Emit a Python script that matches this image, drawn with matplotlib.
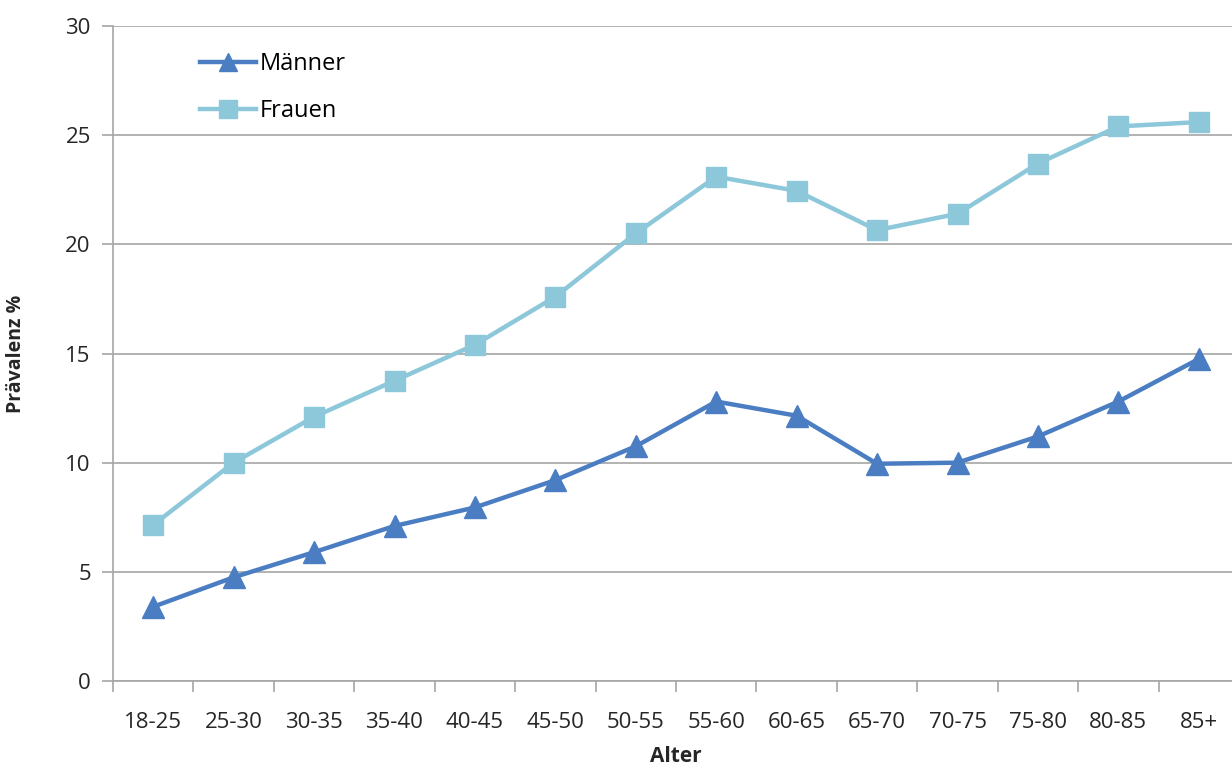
import matplotlib
matplotlib.use("Agg")
import matplotlib.pyplot as plt
import numpy as np

plt.rcParams['font.family'] = ['Open Sans', 'DejaVu Sans']

categories = ["18-25", "25-30", "30-35", "35-40", "40-45", "45-50", "50-55",
              "55-60", "60-65", "65-70", "70-75", "75-80", "80-85", "85+"]
maenner = [3.4, 4.75, 5.9, 7.1, 7.95, 9.2, 10.75, 12.8, 12.15, 9.95, 10.0, 11.2, 12.8, 14.75]
frauen = [7.15, 10.0, 12.1, 13.75, 15.4, 17.6, 20.5, 23.1, 22.45, 20.65, 21.4, 23.7, 25.4, 25.6]

c_m = "#4A7DC2"
c_f = "#8DC7DA"
grid_c = "#A6A6A6"
txt_c = "#262626"

fig = plt.figure(figsize=(12.32, 7.69), dpi=100)
ax = fig.add_axes([113/1232, 88/769, 1126/1232, 655/769])

x = np.arange(len(categories))
ax.plot(x, maenner, color=c_m, lw=3.2, marker="^", ms=16, mec=c_m, mfc=c_m,
        label="Männer", zorder=3)
ax.plot(x, frauen, color=c_f, lw=3.2, marker="s", ms=14.5, mec=c_f, mfc=c_f,
        label="Frauen", zorder=3)

ax.set_xlim(-0.5, len(categories) - 0.5)
ax.set_ylim(0, 30)
ax.set_yticks(np.arange(0, 31, 5))
ax.yaxis.grid(True, color=grid_c, lw=1.2)
ax.set_axisbelow(True)

ax.set_xticks(x)
ax.set_xticklabels(categories)
ax.set_xticks(np.arange(-0.5, len(categories), 1), minor=True)
ax.tick_params(axis="x", which="major", length=0, pad=22, labelsize=16, labelcolor=txt_c)
ax.tick_params(axis="x", which="minor", length=8, width=1.2, color=grid_c, direction="out")
ax.tick_params(axis="y", length=8, width=1.2, color=grid_c, labelsize=16,
               labelcolor=txt_c, pad=8)

for side in ["top", "right"]:
    ax.spines[side].set_visible(False)
for side in ["left", "bottom"]:
    ax.spines[side].set_color(grid_c)
    ax.spines[side].set_linewidth(1.2)

ax.set_ylabel("Prävalenz %", fontsize=14, fontweight="bold", labelpad=28, color=txt_c)
ax.set_xlabel("Alter", fontsize=15, fontweight="bold", labelpad=10, color=txt_c)

leg = ax.legend(loc="upper left", bbox_to_anchor=(0.058, 0.993), frameon=False,
                fontsize=17, handlelength=2.4, labelspacing=1.0, handletextpad=0.15,
                markerscale=0.85)

fig.savefig("out.png", dpi=100, facecolor="white")
